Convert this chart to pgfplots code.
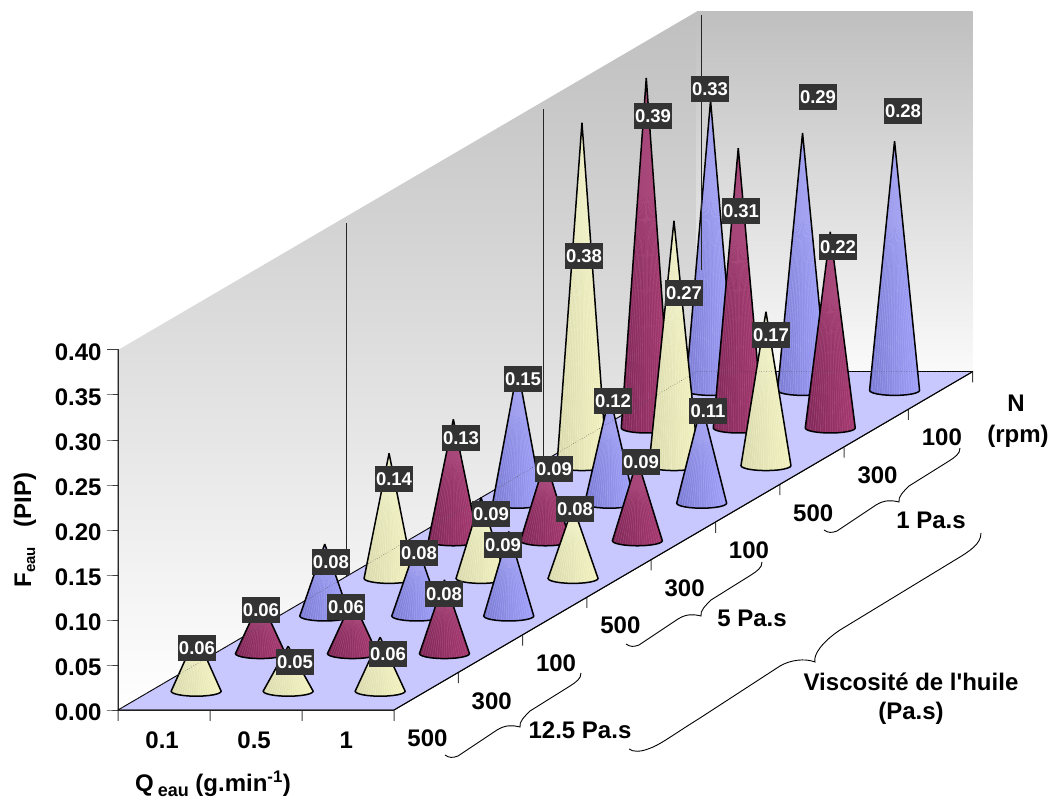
\documentclass[border=0pt]{standalone}
\usepackage{pgfplots}
\usepackage{pgfplotstable}
\usepackage{fontspec}
\setmainfont{Liberation Sans}[BoldFont={Liberation Sans Bold}]
\pgfplotsset{compat=1.18}
\definecolor{ylL}{HTML}{D8D8AC}\definecolor{ylM}{HTML}{F4F4C2}\definecolor{ylR}{HTML}{F2F2C0}
\definecolor{blL}{HTML}{7A7AD2}\definecolor{blM}{HTML}{9292EC}\definecolor{blR}{HTML}{A2A2FC}
\definecolor{mrL}{HTML}{7E2858}\definecolor{mrM}{HTML}{952F62}\definecolor{mrR}{HTML}{A63A70}
\definecolor{ylS}{HTML}{FFFFE0}\definecolor{blS}{HTML}{C0C0FF}\definecolor{mrS}{HTML}{C86A9A}
\definecolor{floorc}{HTML}{C8C8FF}
\definecolor{lab}{HTML}{333333}
\pgfplotstableread{
dq dn a
0 0 1
0.2717 0 0
0.2866 -0.0344 0
0.2818 -0.0665 0
0.2579 -0.0940 0
0.2164 -0.1152 0
0.1601 -0.1285 0
0.0929 -0.1330 0
0.0195 -0.1285 0
-0.0554 -0.1152 0
-0.1264 -0.0940 0
-0.1889 -0.0665 0
-0.2384 -0.0344 0
-0.2717 0 0
0 0 1
}\conetable
\pgfplotstableread{
dx dy a
0 0 1
-22.5 -2.18 0
0 0 1
-20 -3.0 0
0 0 1
-17.5 -3.57 0
0 0 1
-15 -4.0 0
0 0 1
-12.5 -4.33 0
0 0 1
-10 -4.58 0
0 0 1
-7.5 -4.77 0
0 0 1
-5 -4.9 0
0 0 1
-2.5 -4.97 0
0 0 1
0 -5 0
0 0 1
2.5 -4.97 0
0 0 1
5 -4.9 0
0 0 1
7.5 -4.77 0
0 0 1
10 -4.58 0
0 0 1
12.5 -4.33 0
0 0 1
15 -4.0 0
0 0 1
17.5 -3.57 0
0 0 1
20 -3.0 0
0 0 1
22.5 -2.18 0
0 0 1
}\fantable
\tikzset{
 yl/.style={shade,left color=ylL,middle color=ylM,right color=ylR},
 bl/.style={shade,left color=blL,middle color=blM,right color=blR},
 mr/.style={shade,left color=mrL,middle color=mrM,right color=mrR},
 vlab/.style={fill=lab,text=white,font=\fontsize{18.5}{20}\selectfont\bfseries,minimum width=38pt,minimum height=26pt,inner sep=0pt},
 tx/.style={font=\fontsize{24}{28}\selectfont\bfseries,inner sep=0pt,align=center},
}
\newcommand{\cone}[4]{%
 \addplot3[#4,draw=none,no markers]
  table[x expr=#1+\thisrow{dq},y expr=#2+\thisrow{dn},z expr=#3*\thisrow{a}]{\conetable};
 \addplot3[#4S,line width=0.55pt,opacity=0.4,no markers]
  table[x expr=#1+(\thisrow{dx}-64.3*\thisrow{dy}/37.6)/92,y expr=#2+\thisrow{dy}/37.6,z expr=#3*\thisrow{a}]{\fantable};
 \addplot3[black,line width=1.5pt,line join=miter,miter limit=20,no markers]
  table[x expr=#1+\thisrow{dq},y expr=#2+\thisrow{dn},z expr=#3*\thisrow{a}]{\conetable};}
\begin{document}
\begin{tikzpicture}
\path[use as bounding box] (0pt,0pt) rectangle (1058pt,801pt);
\begin{axis}[
 at={(118pt,91pt)},anchor=origin,
 x={(92pt,0pt)},y={(64.3pt,37.6pt)},z={(0pt,900pt)},
 xmin=0,xmax=3,ymin=0,ymax=9,zmin=0,zmax=0.4,
 clip=false,
 axis lines=left,
 axis line style={-,black,line width=0.8pt},
 major tick length=0pt,
 tick style={draw=none},
 xtick={0,1,2,3},x tick label as interval,xticklabels={0.1,0.5,1},
 xticklabel style={xshift=5pt,yshift=-18pt},
 ytick={0,1,...,9},y tick label as interval,yticklabels={500,300,100,500,300,100,500,300,100},
 yticklabel style={xshift=-15pt,yshift=-31pt},
 ztick={0,0.05,0.10,0.15,0.20,0.25,0.30,0.35,0.40},
 zticklabel style={xshift=-13pt,yshift=5pt,/pgf/number format/fixed,/pgf/number format/fixed zerofill,/pgf/number format/precision=2,/pgf/number format/assume math mode=true},
 tick label style={font=\fontsize{24}{28}\selectfont\bfseries},
]
% walls and floor
\addplot3[shade,top color=black!25,bottom color=white,draw=none,no markers] coordinates {(0,0,0) (0,0,0.4) (0,9,0.4) (0,9,0) (0,0,0)};
\addplot3[shade,top color=black!25,bottom color=black!2,draw=none,no markers] coordinates {(0,9,0) (0,9,0.4) (3,9,0.4) (3,9,0) (0,9,0)};
\addplot3[fill=floorc,draw=none,no markers] coordinates {(0,0,0) (3,0,0) (3,9,0) (0,9,0) (0,0,0)};
% tick marks
\addplot3[black!75,line width=1pt,no markers] coordinates {(0,0,0) (-0.12,0,0) (0,0,0) (0,0,0.05) (-0.12,0,0.05) (0,0,0.05) (0,0,0.10) (-0.12,0,0.10) (0,0,0.10) (0,0,0.15) (-0.12,0,0.15) (0,0,0.15) (0,0,0.20) (-0.12,0,0.20) (0,0,0.20) (0,0,0.25) (-0.12,0,0.25) (0,0,0.25) (0,0,0.30) (-0.12,0,0.30) (0,0,0.30) (0,0,0.35) (-0.12,0,0.35) (0,0,0.35) (0,0,0.40) (-0.12,0,0.40)};
\addplot3[black!75,line width=1pt,no markers] coordinates {(0,0,0) (0,0,-0.012) (0,0,0) (1,0,0) (1,0,-0.012) (1,0,0) (2,0,0) (2,0,-0.012) (2,0,0) (3,0,0) (3,0,-0.012) (3,0,0) (3,1,0) (3,1,-0.012) (3,1,0) (3,2,0) (3,2,-0.012) (3,2,0) (3,3,0) (3,3,-0.012) (3,3,0) (3,4,0) (3,4,-0.012) (3,4,0) (3,5,0) (3,5,-0.012) (3,5,0) (3,6,0) (3,6,-0.012) (3,6,0) (3,7,0) (3,7,-0.012) (3,7,0) (3,8,0) (3,8,-0.012) (3,8,0) (3,9,0) (3,9,-0.012)};
\addplot3[black,line width=0.9pt,no markers] coordinates {(0,9,0) (0,0,0) (0,0,0.4)};
\addplot3[black,line width=0.9pt,no markers] coordinates {(0,0,0) (3,0,0) (3,9,0)};
\addplot3[black,line width=0.6pt,no markers] coordinates {(3,9,0) (0,9,0)};
% cones, back to front
\cone{0.5}{8.5}{0.322}{bl}\cone{1.5}{8.5}{0.286}{bl}\cone{2.5}{8.5}{0.277}{bl}
\cone{0.5}{7.5}{0.389}{mr}\cone{1.5}{7.5}{0.311}{mr}\cone{2.5}{7.5}{0.218}{mr}
\cone{0.5}{6.5}{0.381}{yl}\cone{1.5}{6.5}{0.272}{yl}\cone{2.5}{6.5}{0.171}{yl}
\cone{0.5}{5.5}{0.150}{bl}\cone{1.5}{5.5}{0.120}{bl}\cone{2.5}{5.5}{0.110}{bl}
\cone{0.5}{4.5}{0.135}{mr}\cone{1.5}{4.5}{0.090}{mr}\cone{2.5}{4.5}{0.090}{mr}
\cone{0.5}{3.5}{0.139}{yl}\cone{1.5}{3.5}{0.090}{yl}\cone{2.5}{3.5}{0.080}{yl}
\cone{0.5}{2.5}{0.080}{bl}\cone{1.5}{2.5}{0.080}{bl}\cone{2.5}{2.5}{0.094}{bl}
\cone{0.5}{1.5}{0.060}{mr}\cone{1.5}{1.5}{0.060}{mr}\cone{2.5}{1.5}{0.082}{mr}
\cone{0.5}{0.5}{0.062}{yl}\cone{1.5}{0.5}{0.050}{yl}\cone{2.5}{0.5}{0.060}{yl}
% faint see-through edges and wall lines
\addplot3[black!70,line width=0.5pt,dotted,no markers] coordinates {(0,0,0) (0,9,0) (3,9,0)};
\addplot3[black!85,line width=1pt,no markers] coordinates {(0,3.56,0) (0,3.56,0.392)};
\addplot3[black!85,line width=1pt,no markers] coordinates {(0,6.61,0) (0,6.61,0.392)};
\addplot3[black!85,line width=1pt,no markers] coordinates {(0,9.08,0.11) (0,9.08,0.393)};
\end{axis}
\begin{scope}[x=1pt,y=-1pt,shift={(0pt,801pt)}]
\foreach \x/\y/\t in {197/648/0.06,261/610/0.06,295/662/0.05,388/654/0.06,331/562/0.08,346/607/0.06,444/594/0.08,419/553/0.08,503/545/0.09,
 394/479/0.14,461/438/0.13,523/379/0.15,491/514/0.09,554/469/0.09,575/509/0.08,613/401/0.12,641/462/0.09,708/411/0.11,
 771/335/0.17,684/293/0.27,584/256/0.38,653/116/0.39,710/89/0.33,741/211/0.31,818/97/0.29,838/247/0.22,903/111/0.28}
 \node[vlab] at (\x,\y) {\t};
\node[tx] at (213,784) {Q\,{\fontsize{18}{20}\selectfont\raisebox{-5pt}{eau}} (g.min\textsuperscript{-1})};
\node[tx,rotate=90] at (25,530) {F\raisebox{-4pt}{\fontsize{15}{18}\selectfont eau}\ \ \ (PIP)};
\node[tx] at (1016,403) {N};
\node[tx] at (1018,436) {(rpm)};
\node[tx] at (931,520) {1 Pa.s};
\node[tx] at (752,618) {5 Pa.s};
\node[tx] at (580,730) {12.5 Pa.s};
\node[tx] at (911,682) {Viscosité de l\textquotesingle huile};
\node[tx] at (911,713) {(Pa.s)};
% braces
\foreach \dx/\dy in {0/0,181/-111,379/-225}{
 \draw[black,line width=0.9pt,shift={(\dx,\dy)}] (445,755) .. controls (449,758) and (453,758) .. (458,756) -- (497,730) .. controls (505,725) and (512,725) .. (520,727) .. controls (519,722) and (524,717) .. (530,711) -- (570,686) .. controls (576,682) and (581,679) .. (581,673);
}
\draw[black,line width=0.9pt] (629,749) .. controls (633,752) and (640,752) .. (648,749) .. controls (660,745) and (668,738) .. (700,718) -- (780,666) .. controls (790,660) and (805,658) .. (815,662) .. controls (813,655) and (822,642) .. (840,630) -- (955,560) .. controls (970,551) and (981,544) .. (981,533);
\end{scope}
\end{tikzpicture}
\end{document}
